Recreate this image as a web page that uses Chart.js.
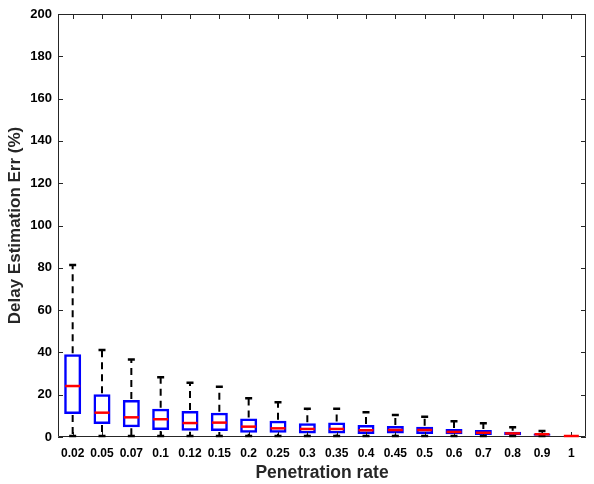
<!DOCTYPE html>
<html>
<head>
<meta charset="utf-8">
<script src="https://cdn.jsdelivr.net/npm/chart.js@4/dist/chart.umd.min.js"></script>
<style>
  html, body { margin: 0; padding: 0; background: #fff; }
  #wrap { width: 594px; height: 484px; }
</style>
</head>
<body>
<div id="wrap"><canvas id="boxChart"></canvas></div>
<script>
// --- data ---
const categories = ['0.02', '0.05', '0.07', '0.1', '0.12', '0.15', '0.2', '0.25', '0.3', '0.35', '0.4', '0.45', '0.5', '0.6', '0.7', '0.8', '0.9', '1'];
const whiskerHigh = [81.3, 41.1, 36.7, 28.2, 25.7, 23.8, 18.3, 16.4, 13.4, 13.4, 11.7, 10.4, 9.6, 7.4, 6.5, 4.6, 2.8, 0];
const q3 = [39.1, 20.2, 17.5, 13.4, 12.3, 11.5, 8.8, 7.7, 6.5, 6.8, 5.7, 5.2, 4.9, 3.8, 3.3, 2.5, 1.7, 0];
const median = [24.1, 11.5, 9.3, 8.4, 6.6, 6.8, 4.9, 4.1, 3.8, 3.8, 3.2, 3.3, 3.3, 2.4, 2.0, 1.7, 1.3, 0];
const q1 = [10.9, 6.1, 4.6, 3.3, 3.0, 2.8, 2.0, 2.0, 1.7, 1.7, 1.4, 1.6, 1.4, 1.3, 0.9, 0.8, 0.6, 0];
const whiskerLow = [0, 0, 0, 0, 0, 0, 0, 0, 0, 0, 0, 0, 0, 0, 0, 0, 0, 0];
const yTicks = [0, 20, 40, 60, 80, 100, 120, 140, 160, 180, 200];

const axisColor = '#262626';
const fontFamily = "Arial, 'Liberation Sans', sans-serif";

// frame with inward ticks, then whiskers, caps and medians on top
const boxExtras = {
    id: 'boxExtras',
    afterDraw: (chart) => {
        const { ctx, chartArea: { top, bottom, left, right }, scales: { x, y } } = chart;
        ctx.save();

        // MATLAB style box
        ctx.strokeStyle = axisColor;
        ctx.lineWidth = 1;
        ctx.beginPath();
        ctx.rect(left + 0.5, top + 0.5, right - left - 1, bottom - top - 1);
        const tl = 5;
        yTicks.forEach((v) => {
            const py = Math.round(y.getPixelForValue(v)) + 0.5;
            ctx.moveTo(left, py); ctx.lineTo(left + tl, py);
            ctx.moveTo(right, py); ctx.lineTo(right - tl, py);
        });
        categories.forEach((c, i) => {
            const px = Math.round(x.getPixelForValue(i)) + 0.5;
            ctx.moveTo(px, top); ctx.lineTo(px, top + tl);
            ctx.moveTo(px, bottom); ctx.lineTo(px, bottom - tl);
        });
        ctx.stroke();

        const bars = chart.getDatasetMeta(0).data;
        bars.forEach((bar, i) => {
            const bx = bar.x;
            const half = bar.width / 2;
            const capHalf = 3.5;
            const yh = y.getPixelForValue(whiskerHigh[i]);
            const yl = y.getPixelForValue(whiskerLow[i]) - 1;

            if (whiskerHigh[i] > q3[i] || q1[i] > whiskerLow[i]) {
                // dashed whiskers
                ctx.strokeStyle = '#000';
                ctx.lineWidth = 2;
                ctx.setLineDash([7, 5]);
                ctx.beginPath();
                ctx.moveTo(bx, y.getPixelForValue(q3[i]) - 1);
                ctx.lineTo(bx, yh);
                ctx.moveTo(bx, y.getPixelForValue(q1[i]) + 1);
                ctx.lineTo(bx, yl);
                ctx.stroke();

                // caps
                ctx.setLineDash([]);
                ctx.lineWidth = 2.5;
                ctx.beginPath();
                ctx.moveTo(bx - capHalf, yh); ctx.lineTo(bx + capHalf, yh);
                ctx.moveTo(bx - capHalf, yl); ctx.lineTo(bx + capHalf, yl);
                ctx.stroke();
            }

            // median
            ctx.setLineDash([]);
            ctx.strokeStyle = '#FF0000';
            ctx.lineWidth = 2.5;
            const ym = Math.min(y.getPixelForValue(median[i]), bottom - 1);
            ctx.beginPath();
            ctx.moveTo(bx - half + 1, ym); ctx.lineTo(bx + half - 1, ym);
            ctx.stroke();
        });
        ctx.restore();
    }
};

new Chart(document.getElementById('boxChart'), {
    type: 'bar',
    data: {
        labels: categories,
        datasets: [{
            data: categories.map((c, i) => [q1[i], q3[i]]),
            backgroundColor: 'rgba(255,255,255,0)',
            borderColor: '#0000FF',
            borderWidth: 2.5,
            borderSkipped: false,
            barPercentage: 0.58,
            categoryPercentage: 1
        }]
    },
    options: {
        responsive: true,
        maintainAspectRatio: false,
        animation: false,
        layout: { padding: { top: 14, right: 8, left: 0, bottom: 0 } },
        plugins: {
            legend: { display: false },
            tooltip: { enabled: false }
        },
        scales: {
            x: {
                grid: { display: false, drawTicks: false },
                border: { display: false },
                ticks: {
                    color: '#000',
                    font: { family: fontFamily, size: 12, weight: 'bold' },
                    padding: 9,
                    maxRotation: 0,
                    autoSkip: false
                },
                title: {
                    display: true,
                    text: 'Penetration rate',
                    color: axisColor,
                    font: { family: fontFamily, size: 17.5, weight: 'bold' },
                    padding: { top: 2, bottom: 0 }
                },
                afterFit: (scale) => { scale.height = 47; }
            },
            y: {
                min: 0,
                max: 200,
                grid: { display: false, drawTicks: false },
                border: { display: false },
                ticks: {
                    stepSize: 20,
                    color: '#000',
                    font: { family: fontFamily, size: 13, weight: 'bold' },
                    padding: 6
                },
                title: {
                    display: true,
                    text: 'Delay Estimation Err (%)',
                    color: axisColor,
                    font: { family: fontFamily, size: 17, weight: 'bold' },
                    padding: { top: 5, bottom: 0 }
                },
                afterFit: (scale) => { scale.width = 58; }
            }
        }
    },
    plugins: [boxExtras]
});
</script>
</body>
</html>
